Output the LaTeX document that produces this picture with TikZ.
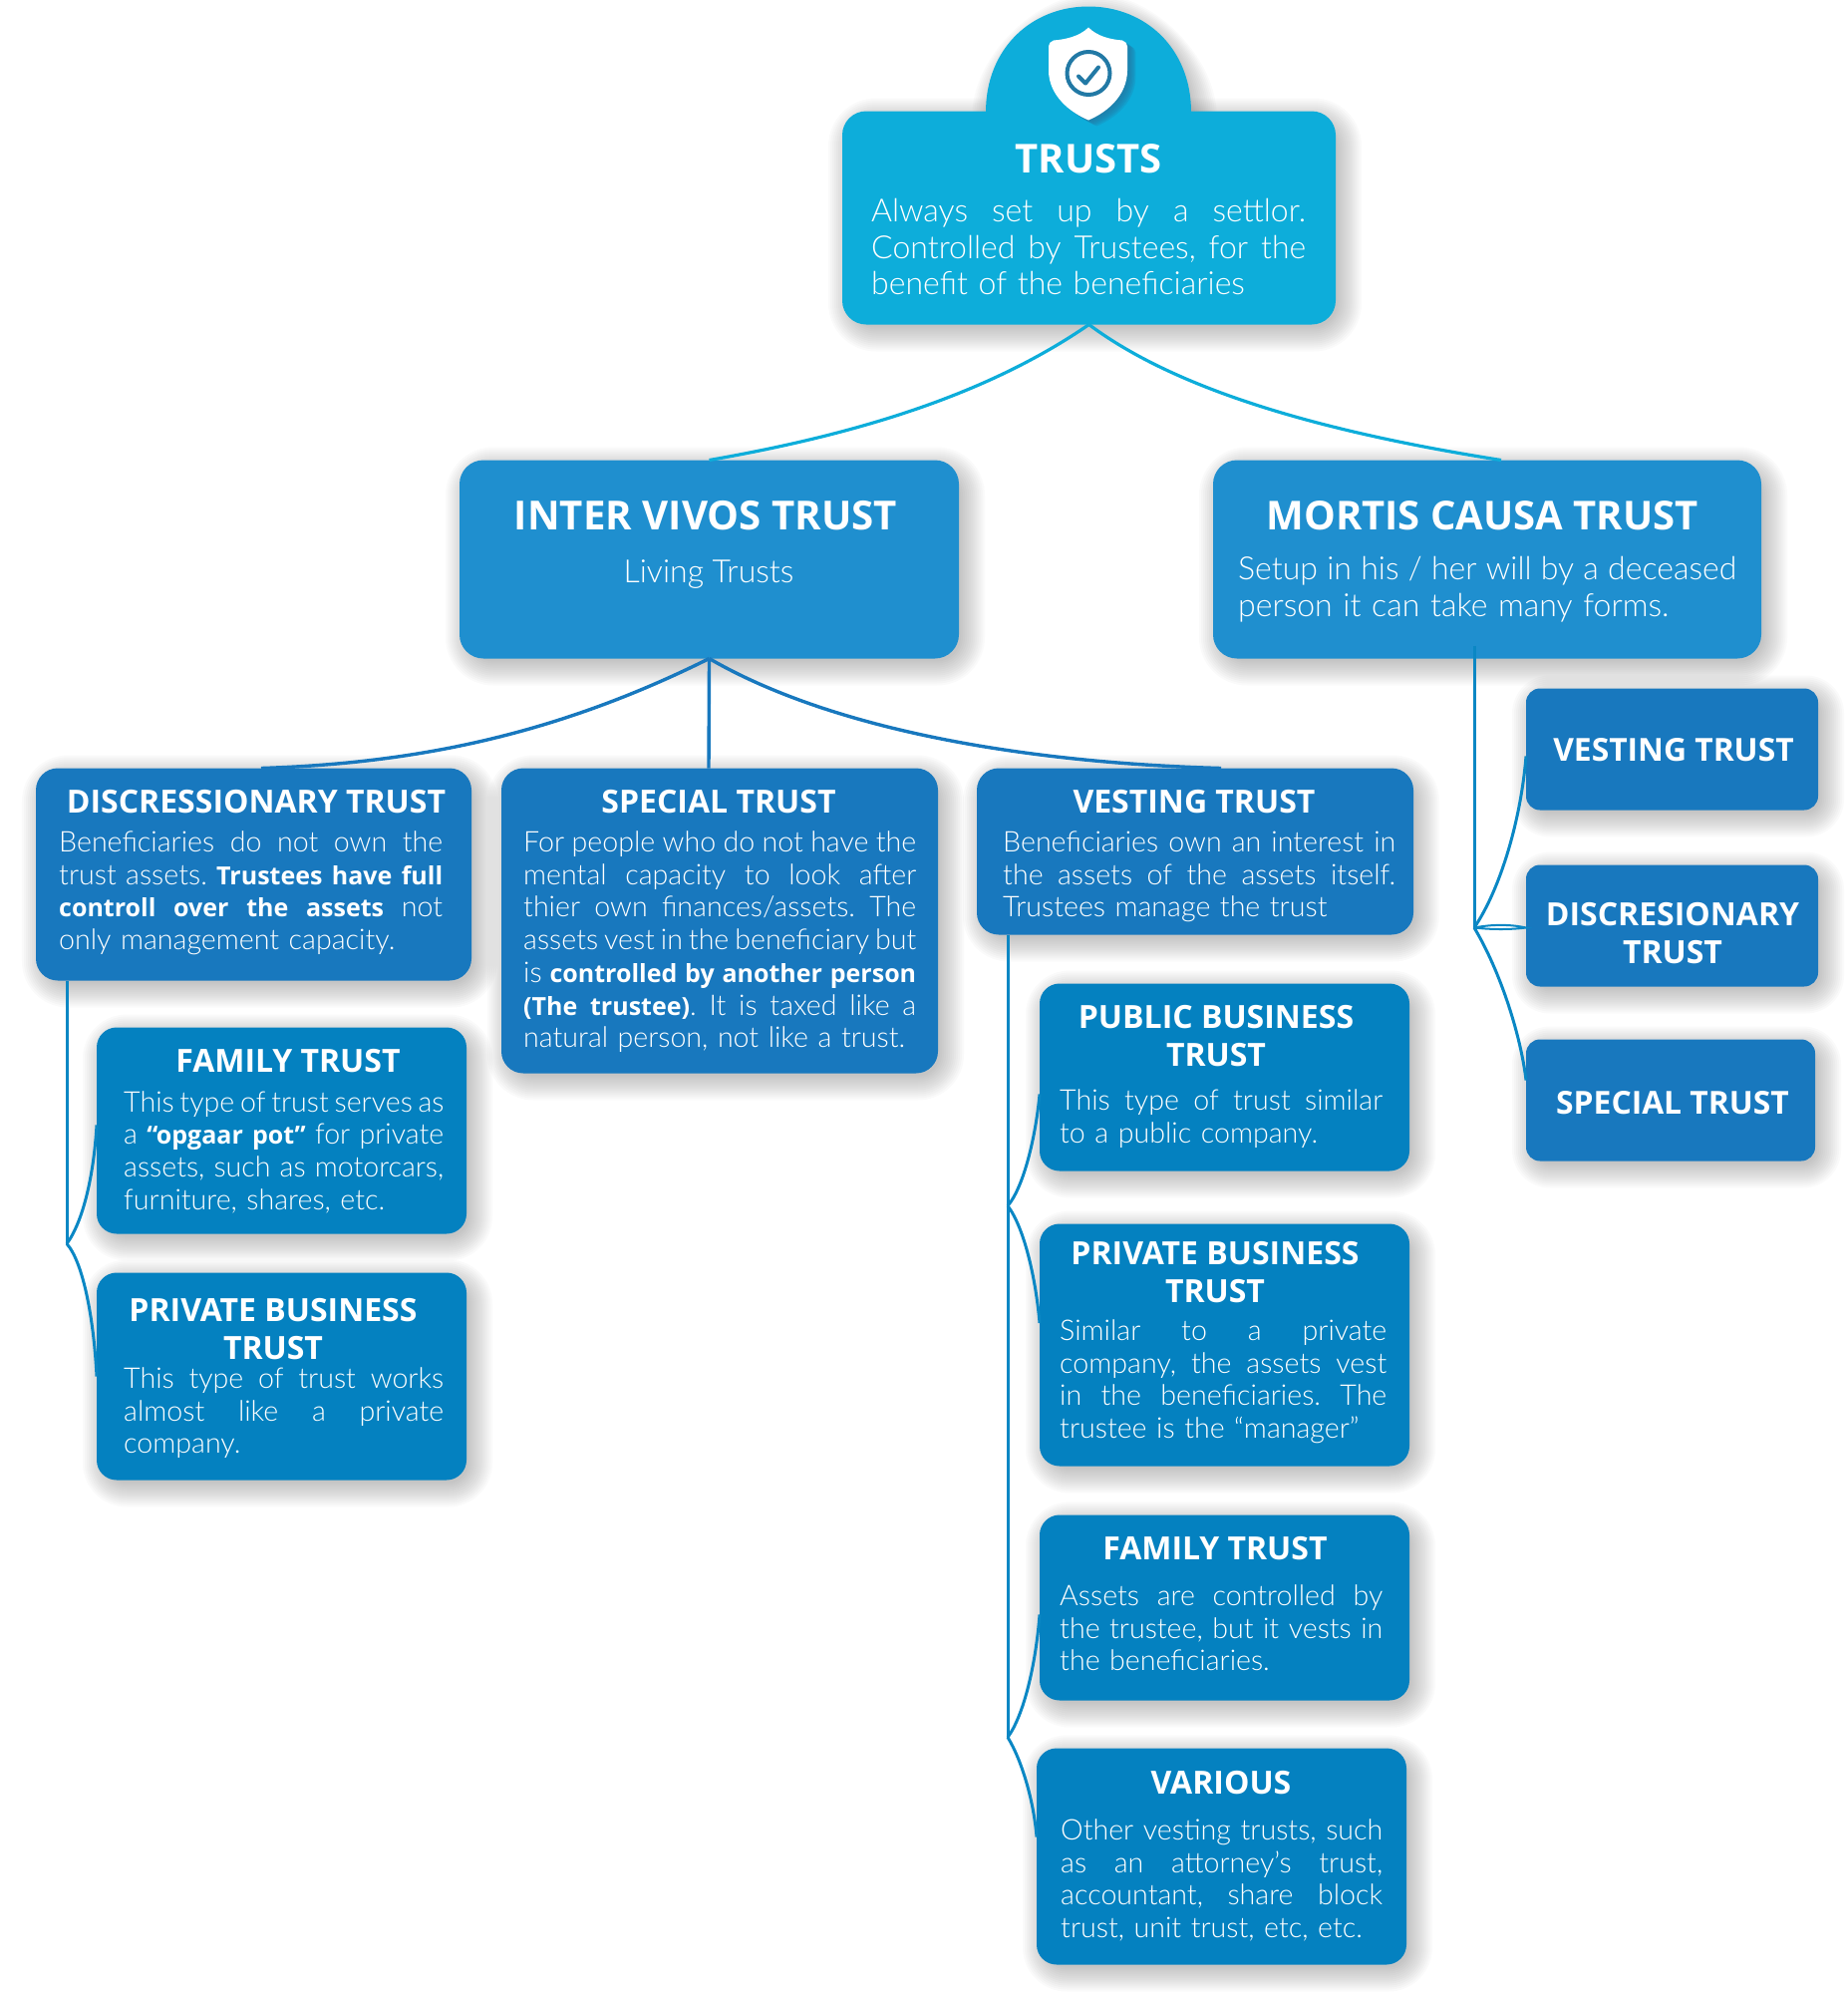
\documentclass[tikz,border=0pt]{standalone}
\usepackage{fontspec}
\setmainfont{Lato}
\newfontfamily\hdf{Open Sans}
\newfontfamily\bodyf{Lato}[UprightFont=* Light,BoldFont=* Bold]
\definecolor{ctop}{HTML}{0DADDA}
\definecolor{cmid}{HTML}{1F8FCF}
\definecolor{cdark}{HTML}{1878BE}
\definecolor{csub}{HTML}{0481C0}
\definecolor{cicon}{HTML}{2279A5}
\definecolor{clink}{HTML}{0A87C4}
\tikzset{
  boxst/.style={rounded corners=#1,inner sep=0pt,outer sep=0pt,text=white},
  boxst/.default=18pt,
  linktop/.style={draw=ctop,line width=3.2pt},
  linkmid/.style={draw=cdark,line width=3.4pt},
  linksub/.style={draw=clink,line width=3pt},
  ttlst/.style={text=white,inner sep=0pt,anchor=base,align=center},
  bodyst/.style={text=white,inner sep=0pt,anchor=base west,align=left},
}
\newcommand{\softshadow}[5]{% x1 y1 x2 y2 radius
  \foreach \e in {20,18,16,14,12,10,8,6,4,2,0,-2,-4}{
    \fill[black,opacity=0.02,rounded corners=#5+\e*1pt+4pt]
      ({#1-\e+6},{#2-\e+7}) rectangle ({#3+\e+6},{#4+\e+7});
  }}
\newcommand{\tbox}[7]{% name x1 y1 x2 y2 colour radius
  \softshadow{#2}{#3}{#4}{#5}{#7}
  \node[boxst=#7pt,fill=#6,minimum width={(#4-#2)*1pt},minimum height={(#5-#3)*1pt}]
    (#1) at ({(#2+#4)/2},{(#3+#5)/2}) {};}
\newcommand{\ttl}[5]{% name cx y size text
  \node[ttlst,font={\hdf\bfseries\fontsize{#4}{38}\selectfont}] (#1) at (#2,#3) {#5};}
\newcommand{\setsp}{\frenchspacing\spaceskip=.27em plus .1em minus .05em\relax}
\newcommand{\bdy}[5]{% name x y width lines
  \node[bodyst,text width=#4pt,font={\bodyf\fontsize{28.6}{32.7}\selectfont\setsp}] (#1) at (#2,#3) {#5};}
\newcommand{\bdyb}[5]{% larger body
  \node[bodyst,text width=#4pt,font={\bodyf\fontsize{32}{36.5}\selectfont\setsp}] (#1) at (#2,#3) {#5};}
\newcommand{\J}[1]{\leavevmode\hbox to \hsize{\frenchspacing\spaceskip=.2em plus 1fil\relax #1}}
\newcommand{\bb}[1]{{\hdf\bfseries\fontsize{25}{32.7}\selectfont #1}}
\begin{document}
\begin{tikzpicture}[x=1pt,y=-1pt]
\useasboundingbox (-1,-0.5) rectangle (1853,1999.5);
% top box with dome
\foreach \e in {20,18,16,14,12,10,8,6,4,2,0,-2,-4}{
  \fill[black,opacity=0.02,line join=round]
    ({988-\e+6},118) .. controls ({988-\e+6},{48+7}) and ({1034+6},{6-\e+7}) .. ({1091+6},{6-\e+7})
    .. controls ({1148+6},{6-\e+7}) and ({1194+\e+6},{48+7}) .. ({1194+\e+6},118) -- cycle;
}
\tbox{trusts}{844}{111}{1339}{325}{ctop}{24}
\fill[ctop] (988,112) .. controls (988,48) and (1034,6) .. (1091,6)
  .. controls (1148,6) and (1194,48) .. (1194,112) -- cycle;
% shield
\foreach \e in {12,10,8,6,4,2}{
\fill[cicon,opacity=0.24,xshift=\e*0.7pt,yshift=-\e*0.5pt]
  (1091,27) .. controls (1082,36) and (1068,39) .. (1056,40)
  .. controls (1053,41) and (1051,43) .. (1051,46) -- (1051,70)
  .. controls (1051,95) and (1072,112) .. (1091,120)
  .. controls (1110,112) and (1130,95) .. (1130,70) -- (1130,46)
  .. controls (1130,43) and (1128,41) .. (1125,40)
  .. controls (1113,39) and (1100,36) .. (1091,27) -- cycle;}
\fill[white]
  (1091,27) .. controls (1082,36) and (1068,39) .. (1056,40)
  .. controls (1053,41) and (1051,43) .. (1051,46) -- (1051,70)
  .. controls (1051,95) and (1072,112) .. (1091,120)
  .. controls (1110,112) and (1130,95) .. (1130,70) -- (1130,46)
  .. controls (1130,43) and (1128,41) .. (1125,40)
  .. controls (1113,39) and (1100,36) .. (1091,27) -- cycle;
\draw[cicon,line width=4pt] (1091,73) circle[radius=21.5pt];
\draw[cicon,line width=4pt,line cap=round,line join=round] (1081,76) -- (1088,83) -- (1101,67);
% boxes
\tbox{inter}{460}{461}{961}{660}{cmid}{24}
\tbox{mortis}{1216}{461}{1766}{660}{cmid}{24}
\tbox{disc}{35}{770}{472}{983}{cdark}{22}
\tbox{special}{502}{770}{940}{1076}{cdark}{22}
\tbox{vesting}{979}{770}{1417}{937}{cdark}{22}
\tbox{famL}{96}{1030}{467}{1237}{csub}{20}
\tbox{privL}{96}{1276}{467}{1484}{csub}{20}
\tbox{rvest}{1530}{690}{1823}{812}{cdark}{14}
\tbox{rdisc}{1530}{867}{1823}{989}{cdark}{14}
\tbox{rspec}{1530}{1042}{1820}{1164}{cdark}{14}
\tbox{pub}{1042}{986}{1413}{1174}{csub}{20}
\tbox{priv}{1042}{1227}{1413}{1470}{csub}{20}
\tbox{fam}{1042}{1519}{1413}{1705}{csub}{20}
\tbox{var}{1039}{1753}{1410}{1970}{csub}{20}
% connectors
\coordinate (jdisc) at (66,1247);
\coordinate (jmort) at (1478,930);
\coordinate (jva) at (1010,1209);
\coordinate (jvb) at (1010,1742);
\draw[linktop] (trusts.south) .. controls (990,395) and (860,435) .. (inter.north);
\draw[linktop] (trusts.south) .. controls (1185,395) and (1340,435) .. ([xshift=14pt]mortis.north);
\draw[linkmid] (inter.south) .. controls (560,735) and (420,765) .. ([xshift=7.5pt]disc.north);
\draw[linkmid] (inter.south) -- ([xshift=-11pt]special.north);
\draw[linkmid] (inter.south) .. controls (840,735) and (1040,765) .. ([xshift=26pt]vesting.north);
\draw[linksub] ([xshift=31pt]disc.south west) -- (jdisc);
\draw[linksub] (jdisc) .. controls (82,1225) and (93,1180) .. ([yshift=5.5pt]famL.west);
\draw[linksub] (jdisc) .. controls (82,1265) and (93,1320) .. (privL.west);
\draw[linksub] ([xshift=-13pt,yshift=13pt]mortis.south) -- (jmort);
\draw[linksub] (jmort) .. controls (1505,890) and (1525,820) .. ([yshift=-7pt]rvest.west);
\draw[linksub,line width=2pt] (jmort) .. controls (1495,926.5) and (1515,926.5) .. ([yshift=-2pt]rdisc.west)
  .. controls (1515,932) and (1495,932) .. (jmort);
\draw[linksub] (jmort) .. controls (1505,975) and (1525,1040) .. ([yshift=20pt]rspec.west);
\draw[linksub] ([xshift=31pt]vesting.south west) -- (jvb);
\draw[linksub] (jva) .. controls (1026,1190) and (1038,1140) .. ([yshift=-17pt]pub.west);
\draw[linksub] (jva) .. controls (1026,1230) and (1038,1280) .. ([yshift=22pt]priv.west);
\draw[linksub] (jvb) .. controls (1026,1720) and (1038,1670) .. ([yshift=-7pt]fam.west);
\draw[linksub] (jvb) .. controls (1024,1765) and (1036,1805) .. ([yshift=19.5pt]var.west);
% texts
\ttl{t1}{1091}{172.5}{40}{TRUSTS}
\bdyb{b1}{873}{222}{436}{\J{Always set up by a settlor.}\\\J{Controlled by Trustees, for the}\\benefit of the beneficiaries}
\ttl{t2}{707}{530.5}{40.2}{INTER VIVOS TRUST}
\node[ttlst,font={\bodyf\fontsize{32}{36}\selectfont\setsp}] (b2) at (710,584) {Living Trusts};
\ttl{t3}{1486}{530.5}{40}{MORTIS CAUSA TRUST}
\bdyb{b3}{1241}{581}{500}{\J{Setup in his / her will by a deceased}\\person it can take many forms.}
\ttl{t4}{256}{814.5}{32}{DISCRESSIONARY TRUST}
\bdy{b4}{58}{854}{385}{\J{Beneficiaries do not own the}\\\J{trust assets. \bb{Trustees have full}}\\\J{\bb{controll over the assets} not}\\only management capacity.}
\ttl{t5}{720}{814.5}{32}{SPECIAL TRUST}
\bdy{b5}{524}{854}{394}{\J{For people who do not have the}\\\J{mental capacity to look after}\\\J{thier own finances/assets. The}\\\J{assets vest in the beneficiary but}\\\J{is \bb{controlled by another person}}\\\J{\bb{(The trustee)}. It is taxed like a}\\natural person, not like a trust.}
\ttl{t6}{1197}{814.5}{32}{VESTING TRUST}
\bdy{b6}{1005}{854}{394}{\J{Beneficiaries own an interest in}\\\J{the assets of the assets itself.}\\Trustees manage the trust}
\ttl{t7}{288}{1075}{32}{FAMILY TRUST}
\bdy{b7}{123}{1114.5}{321}{\J{This type of trust serves as}\\\J{a \bb{“opgaar pot”} for private}\\\J{assets, such as motorcars,}\\furniture, shares, etc.}
\ttl{t8}{273}{1363}{32}{PRIVATE BUSINESS\\TRUST}
\bdy{b8}{123}{1392}{321}{\J{This type of trust works}\\\J{almost like a private}\\company.}
\ttl{t9}{1678}{763}{31.8}{VESTING TRUST}
\ttl{t10}{1677}{966}{32}{DISCRESIONARY\\TRUST}
\ttl{t11}{1677}{1117}{31.8}{SPECIAL TRUST}
\ttl{t12}{1219}{1069}{32}{PUBLIC BUSINESS\\TRUST}
\bdy{b12}{1062}{1113}{324}{\J{This type of trust similar}\\to a public company.}
\ttl{t13}{1218}{1306}{32}{PRIVATE BUSINESS\\TRUST}
\bdy{b13}{1062}{1344}{328}{\J{Similar to a private}\\\J{company, the assets vest}\\\J{in the beneficiaries. The}\\trustee is the “manager”}
\ttl{t14}{1218}{1564}{32}{FAMILY TRUST}
\bdy{b14}{1062}{1610}{324}{\J{Assets are controlled by}\\\J{the trustee, but it vests in}\\the beneficiaries.}
\ttl{t15}{1224}{1799}{32}{VARIOUS}
\bdy{b15}{1063}{1845}{323}{\J{Other vesting trusts, such}\\\J{as an attorney’s trust,}\\\J{accountant, share block}\\trust, unit trust, etc, etc.}
\end{tikzpicture}
\end{document}
